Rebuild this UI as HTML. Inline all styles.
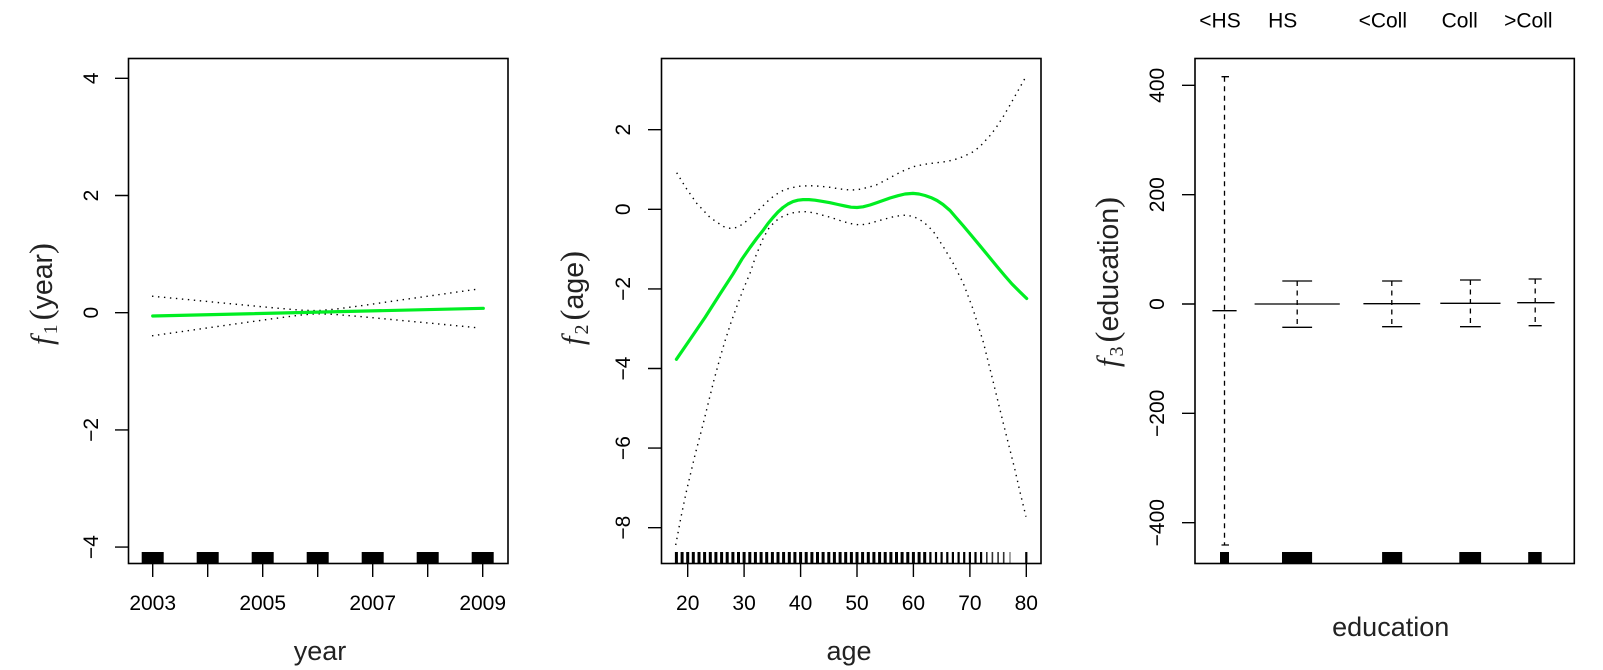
<!DOCTYPE html>
<html>
<head>
<meta charset="utf-8">
<style>
html,body{margin:0;padding:0;background:#fff;}
svg{display:block;}
.tk{font-family:"Liberation Sans",sans-serif;font-size:21px;fill:#000;}
.xl{font-family:"Liberation Sans","DejaVu Sans",sans-serif;font-size:27px;fill:#222;}
.yl{font-family:"Liberation Sans","DejaVu Sans",sans-serif;font-size:28.5px;fill:#222;}
.mi{font-family:"Liberation Serif",serif;font-style:italic;}
.se{font-family:"Liberation Serif",serif;}
</style>
</head>
<body>
<svg width="1603" height="670" viewBox="0 0 1603 670" xmlns="http://www.w3.org/2000/svg">
<rect x="0" y="0" width="1603" height="670" fill="#fff"/>

<!-- PANEL 1 -->
<g fill="#000">
<rect x="141.7" y="552" width="22" height="12"/>
<rect x="196.7" y="552" width="22" height="12"/>
<rect x="251.7" y="552" width="22" height="12"/>
<rect x="306.7" y="552" width="22" height="12"/>
<rect x="361.7" y="552" width="22" height="12"/>
<rect x="416.7" y="552" width="22" height="12"/>
<rect x="471.7" y="552" width="22" height="12"/>
</g>
<rect x="128.5" y="58.5" width="379.5" height="505" fill="none" stroke="#000" stroke-width="1.6"/>
<path d="M152.7 564V577M207.7 564V577M262.7 564V577M317.7 564V577M372.7 564V577M427.7 564V577M482.7 564V577M115 78.3H128.5M115 195.5H128.5M115 312.7H128.5M115 429.9H128.5M115 547.1H128.5" stroke="#000" stroke-width="1.4" fill="none"/>
<g class="tk" text-anchor="middle">
<text x="152.7" y="610">2003</text>
<text x="262.7" y="610">2005</text>
<text x="372.7" y="610">2007</text>
<text x="482.7" y="610">2009</text>
<text transform="translate(98,78.3) rotate(-90)">4</text>
<text transform="translate(98,195.5) rotate(-90)">2</text>
<text transform="translate(98,312.7) rotate(-90)">0</text>
<text transform="translate(98,429.9) rotate(-90)">−2</text>
<text transform="translate(98,547.1) rotate(-90)">−4</text>
</g>
<polyline fill="none" stroke="#000" stroke-width="1.4" stroke-dasharray="1.4 4.6" points="152,296.2 190,299.8 230,303.7 270,307.5 300,310.1 317,310.7 335,309.2 365,305.2 400,300.1 440,294.5 479,288.9"/>
<polyline fill="none" stroke="#000" stroke-width="1.4" stroke-dasharray="1.4 4.6" points="152,335.8 190,330.4 230,324.7 270,319.1 300,315.1 317,313.7 335,314.4 365,317 400,320.3 440,324.1 479,327.9"/>
<line x1="152.7" y1="316" x2="483.3" y2="308.3" stroke="#00ee22" stroke-width="3.2" stroke-linecap="round"/>
<text class="xl" x="320" y="660" text-anchor="middle">year</text>
<text class="yl" transform="translate(52,294) rotate(-90)" text-anchor="middle"><tspan class="mi" font-size="31">f</tspan><tspan class="se" font-size="20" dy="5" dx="2">1</tspan><tspan class="se" font-size="33" dy="-5" dx="4">(</tspan><tspan>year</tspan><tspan class="se" font-size="33">)</tspan></text>

<!-- PANEL 2 -->
<path d="M676.4 552V564M682.1 552V564M687.7 552V564M693.3 552V564M699 552V564M704.6 552V564M710.3 552V564M715.9 552V564M721.6 552V564M727.2 552V564M732.9 552V564M738.5 552V564M744.1 552V564M749.8 552V564M755.4 552V564M761.1 552V564M766.7 552V564M772.4 552V564M778 552V564M783.6 552V564M789.3 552V564M794.9 552V564M800.6 552V564M806.2 552V564M811.9 552V564M817.5 552V564M823.1 552V564M828.8 552V564M834.4 552V564M840.1 552V564M845.7 552V564M851.4 552V564M857 552V564M862.6 552V564M868.3 552V564M873.9 552V564M879.6 552V564M885.2 552V564M890.9 552V564M896.5 552V564M902.1 552V564M907.8 552V564M913.4 552V564M919.1 552V564M924.7 552V564" stroke="#000" stroke-width="3" fill="none"/>
<path d="M930.4 552V564M936 552V564M941.6 552V564M947.3 552V564M952.9 552V564M958.6 552V564M964.2 552V564M969.9 552V564M975.5 552V564M981.1 552V564M1026.3 552V564" stroke="#000" stroke-width="2.2" fill="none"/>
<path d="M986.8 552V564M992.4 552V564M998.1 552V564M1003.7 552V564" stroke="#333" stroke-width="1.6" fill="none"/>
<path d="M1010 552V564" stroke="#888" stroke-width="1.5" fill="none"/>
<rect x="661.5" y="58.5" width="379.5" height="505" fill="none" stroke="#000" stroke-width="1.6"/>
<path d="M687.7 564V577M744.1 564V577M800.6 564V577M857 564V577M913.4 564V577M969.9 564V577M1026.3 564V577M648 129.7H661.5M648 209.3H661.5M648 288.9H661.5M648 368.5H661.5M648 448.1H661.5M648 527.7H661.5" stroke="#000" stroke-width="1.4" fill="none"/>
<g class="tk" text-anchor="middle">
<text x="687.7" y="610">20</text>
<text x="744.1" y="610">30</text>
<text x="800.6" y="610">40</text>
<text x="857" y="610">50</text>
<text x="913.4" y="610">60</text>
<text x="969.9" y="610">70</text>
<text x="1026.3" y="610">80</text>
<text transform="translate(630,129.7) rotate(-90)">2</text>
<text transform="translate(630,209.3) rotate(-90)">0</text>
<text transform="translate(630,288.9) rotate(-90)">−2</text>
<text transform="translate(630,368.5) rotate(-90)">−4</text>
<text transform="translate(630,448.1) rotate(-90)">−6</text>
<text transform="translate(630,527.7) rotate(-90)">−8</text>
</g>
<polyline fill="none" stroke="#000" stroke-width="1.4" stroke-dasharray="1.4 4.6" stroke-linejoin="round" points="676.7,172.7 686,188 696.7,203.3 710,217.5 723.3,226.5 730,228.3 736.7,227.5 743,224 750,218 757,211.5 763.3,205.5 770,199 776,194.5 783,190.5 790,188 800,186.2 810,185.7 820,186.2 830,187.3 840,189 850,190 857,189.8 863,188.6 870,186.8 876.7,184.8 885,180.5 895,175 904,170.5 913.3,166.7 922,164.8 930,163.5 938,162.6 946.7,161.5 955,159.5 963,156.7 973.3,151.7 980,146.5 985,141 991,134.5 996.7,126.7 1003,117 1010,105 1017,92.5 1025,78.3"/>
<polyline fill="none" stroke="#000" stroke-width="1.4" stroke-dasharray="1.4 4.6" stroke-linejoin="round" points="675.7,545 681,517 686.7,490 695,455 703.3,423.3 709,400 714,380 720,358 725,341 731,322.5 736.7,306.7 743,290 750,273.3 756,255.5 763.3,238 769,228 775,221.5 781,217.3 786.7,214.7 793,212.8 800,211.8 806.7,211.7 815,213 822,215 830,217.2 840,220.5 850,223.5 860,225 868,223.8 876,221.5 885,219 895,216.3 906.7,215 915,217.3 923.3,221.7 933,231 943.3,246.7 953,263 963.3,283.3 973,309 983.3,342 993,381 1003.3,423.3 1009,446 1015,470 1020,492 1026,516.7"/>
<polyline fill="none" stroke="#00ee22" stroke-width="3.2" stroke-linejoin="round" stroke-linecap="round" points="676.4,359.3 690,339.5 705,317.5 720,294 733,274 742,259 750,247.5 757,238 763,230.5 768,223.5 773,217.5 778,212 783,207.5 788,204 793,201.6 798,200.2 803,199.6 809,199.6 815,200.2 822,201.3 830,202.7 838,204.5 845,206 851,207.2 857,207.5 863,206.8 870,205 877,202.6 883,200.5 890,198 898,195.7 905,194 913,193.4 919,194 925,195.5 931,197.6 937,200.5 943,204.5 950,210.5 956,217.5 963,225.5 971,235 980,245.8 988,255.5 997,266.5 1005,276 1012,284 1020,292 1026.7,298.5"/>
<text class="xl" x="849" y="660" text-anchor="middle">age</text>
<text class="yl" transform="translate(583,298) rotate(-90)" text-anchor="middle"><tspan class="mi" font-size="31">f</tspan><tspan class="se" font-size="20" dy="5" dx="2">2</tspan><tspan class="se" font-size="33" dy="-5" dx="4">(</tspan><tspan>age</tspan><tspan class="se" font-size="33">)</tspan></text>

<!-- PANEL 3 -->
<g class="tk" text-anchor="middle">
<text x="1220" y="27.5">&lt;HS</text>
<text x="1282.7" y="27.5">HS</text>
<text x="1382.8" y="27.5">&lt;Coll</text>
<text x="1459.7" y="27.5">Coll</text>
<text x="1528.3" y="27.5">&gt;Coll</text>
</g>
<g fill="#000">
<rect x="1220" y="552" width="9" height="12"/>
<rect x="1282" y="552" width="30.1" height="12"/>
<rect x="1382.1" y="552" width="20.1" height="12"/>
<rect x="1459.3" y="552" width="21.8" height="12"/>
<rect x="1528.2" y="552" width="13.5" height="12"/>
</g>
<rect x="1195" y="58.5" width="379.3" height="505" fill="none" stroke="#000" stroke-width="1.6"/>
<path d="M1182 85.3H1195M1182 194.7H1195M1182 304H1195M1182 413.3H1195M1182 522.7H1195" stroke="#000" stroke-width="1.4" fill="none"/>
<g class="tk" text-anchor="middle">
<text transform="translate(1164,85.3) rotate(-90)">400</text>
<text transform="translate(1164,194.7) rotate(-90)">200</text>
<text transform="translate(1164,304) rotate(-90)">0</text>
<text transform="translate(1164,413.3) rotate(-90)">−200</text>
<text transform="translate(1164,522.7) rotate(-90)">−400</text>
</g>
<path d="M1224.5 76.7V545M1297.2 281V327.3M1391.8 281V326.7M1470.4 280V326.7M1535.2 279V325.7" stroke="#000" stroke-width="1.3" stroke-dasharray="5 4.5" fill="none"/>
<path d="M1221.5 76.7H1229M1221.5 545H1229M1212.4 310.7H1236.6M1282.3 281H1312.1M1282.3 327.3H1312.1M1254.6 304H1339.8M1382.1 281H1402.2M1382.1 326.7H1402.2M1363.4 303.7H1420.2M1460 280H1480.8M1460 326.7H1480.8M1440.3 303.3H1500.5M1528.6 279H1541.7M1528.6 325.7H1541.7M1517.2 302.7H1554.6" stroke="#000" stroke-width="1.3" fill="none"/>
<text class="xl" x="1390.7" y="636" text-anchor="middle">education</text>
<text class="yl" transform="translate(1118,282) rotate(-90)" text-anchor="middle"><tspan class="mi" font-size="31">f</tspan><tspan class="se" font-size="20" dy="5" dx="2">3</tspan><tspan class="se" font-size="33" dy="-5" dx="4">(</tspan><tspan>education</tspan><tspan class="se" font-size="33">)</tspan></text>
</svg>
</body>
</html>
